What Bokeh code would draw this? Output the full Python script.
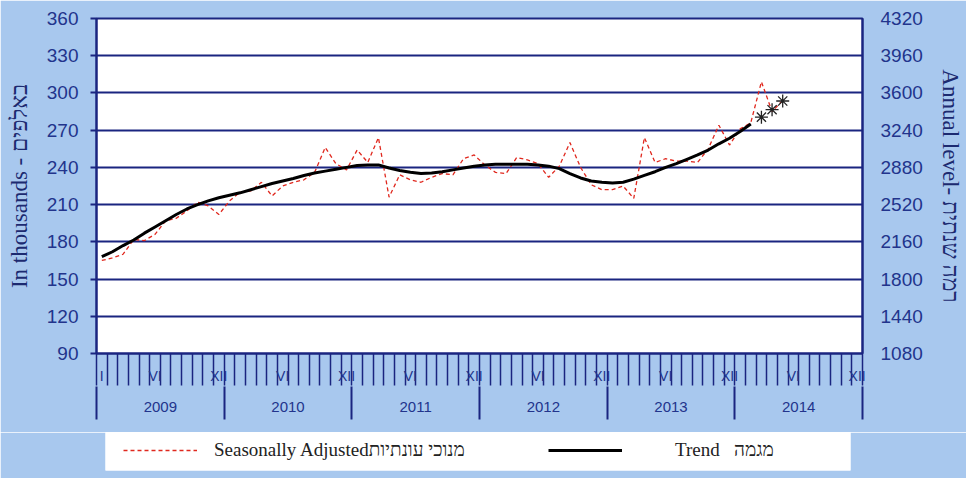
from bokeh.plotting import figure
from bokeh.layouts import column
from bokeh.models import (Range1d, LinearAxis, FixedTicker, Legend, LegendItem, Grid)
from bokeh.embed import file_html
from bokeh.resources import INLINE

# ---------------- data ----------------
years = ["2009", "2010", "2011", "2012", "2013", "2014"]
roman_labels = ["I", "VI", "XII"]

# Seasonally adjusted, monthly Jan 2009 - May 2014 (thousands)
seasonally_adjusted = [
    165, 167, 170, 182, 181, 186, 197, 199, 205, 212, 209, 202,   # 2009
    213, 220, 221, 228, 217, 225, 228, 230, 236, 256, 243, 238,   # 2010
    254, 244, 264, 216, 234, 230, 228, 232, 235, 234, 247, 250,   # 2011
    242, 236, 235, 248, 246, 243, 232, 241, 260, 240, 226, 222,   # 2012
    222, 225, 215, 264, 244, 247, 245, 245, 244, 255, 274, 258,   # 2013
    271, 276, 309, 285, 294,                                       # 2014
]

# Trend, monthly Jan 2009 - Feb 2014
trend = [
    168, 172, 177, 181.5, 187, 192, 197, 202, 206.5, 210, 213, 215.5,
    217.5, 219.5, 222, 224.5, 227, 229, 231, 233.5, 235.5, 237, 238.5, 240,
    241.5, 242, 242, 239.5, 237.5, 236, 235, 235.5, 236.5, 238, 239.5, 241,
    242, 242.5, 242.5, 242.5, 242.5, 242, 241, 239, 235, 231.5, 229, 228,
    227.5, 228, 230.5, 233.5, 236.5, 240, 243, 246.5, 250, 254, 259, 263.5,
    269, 275,
]

# Provisional trend (asterisks), Mar - May 2014
trend_provisional = [280.5, 286.5, 293.5]

left_ticks = [90, 120, 150, 180, 210, 240, 270, 300, 330, 360]
right_ticks = [1080, 1440, 1800, 2160, 2520, 2880, 3240, 3600, 3960, 4320]

legend_labels = ["Seasonally Adjustedמנוכי עונתיות", "Trend   מגמה"]

# month positions (category centres)
sa_x = [i + 0.5 for i in range(len(seasonally_adjusted))]
trend_x = [i + 0.5 for i in range(len(trend))]
prov_x = [len(trend) + i + 0.5 for i in range(len(trend_provisional))]

# ---------------- style ----------------
BG = "#a8c8ee"
NAVY = "#1a2580"
LABEL = "#22348c"
SA_STYLE = dict(line_color="#e0281e", line_width=1.3, line_dash="4 3")
TR_STYLE = dict(line_color="black", line_width=3)

p = figure(width=966, height=432,
           x_range=Range1d(0, 72), y_range=Range1d(90, 360),
           output_backend="svg", toolbar_location=None,
           x_axis_location=None, y_axis_location=None,
           min_border_left=96, min_border_right=104,
           min_border_top=18, min_border_bottom=79,
           frame_align=False,
           background_fill_color="white", border_fill_color=BG,
           outline_line_color=NAVY, outline_line_width=2)

for g in p.grid:
    g.visible = False

p.extra_y_ranges = {"annual": Range1d(1080, 4320)}

# left axis
ly = LinearAxis(ticker=FixedTicker(ticks=left_ticks),
                axis_label="In thousands - באלפים",
                axis_label_text_font="Liberation Serif",
                axis_label_text_font_style="normal",
                axis_label_text_font_size="23px",
                axis_label_text_color="#1c2a70",
                axis_label_standoff=12,
                major_label_text_font="Liberation Sans",
                major_label_text_font_size="19px",
                major_label_text_color=LABEL,
                major_label_standoff=12,
                major_tick_out=6, major_tick_in=0,
                major_tick_line_color=NAVY, major_tick_line_width=2,
                minor_tick_out=0, minor_tick_in=0,
                axis_line_color=NAVY, axis_line_width=2)
p.add_layout(ly, "left")

# right axis
ry = LinearAxis(y_range_name="annual", ticker=FixedTicker(ticks=right_ticks),
                axis_label="Annual level- רמה שנתית",
                axis_label_text_font="Liberation Serif",
                axis_label_text_font_style="normal",
                axis_label_text_font_size="23px",
                axis_label_text_color="#1c2a70",
                axis_label_standoff=12,
                major_label_text_font="Liberation Sans",
                major_label_text_font_size="19px",
                major_label_text_color=LABEL,
                major_label_standoff=18,
                major_tick_out=0, major_tick_in=0,
                minor_tick_out=0, minor_tick_in=0,
                axis_line_color=NAVY, axis_line_width=2)
p.add_layout(ry, "right")

# horizontal grid
p.add_layout(Grid(dimension=1, ticker=ly.ticker,
                  grid_line_color=NAVY, grid_line_width=2))

# month axis: ticks at month boundaries, roman labels between them
month_overrides = {0.5: roman_labels[0]}
for y in range(len(years)):
    month_overrides[y * 12 + 5.5] = roman_labels[1]
    month_overrides[y * 12 + 11.5] = roman_labels[2]
mx = LinearAxis(ticker=FixedTicker(ticks=sorted(month_overrides),
                                   minor_ticks=list(range(0, 73))),
                major_label_overrides=month_overrides,
                major_label_text_font="Liberation Sans",
                major_label_text_font_size="14px",
                major_label_text_color=LABEL,
                major_label_standoff=-18,
                major_tick_out=0, major_tick_in=0,
                minor_tick_out=32, minor_tick_in=0,
                minor_tick_line_color=NAVY, minor_tick_line_width=1.5,
                axis_line_color=NAVY, axis_line_width=2)
p.add_layout(mx, "below")

# year axis: separators at year boundaries, year labels centred
year_pos = [y * 12 + 6 for y in range(len(years))]
yx = LinearAxis(ticker=FixedTicker(ticks=year_pos,
                                   minor_ticks=[y * 12 for y in range(len(years) + 1)]),
                major_label_overrides={pos: lab for pos, lab in zip(year_pos, years)},
                major_label_text_font="Liberation Sans",
                major_label_text_font_size="15px",
                major_label_text_color=LABEL,
                major_label_standoff=-18,
                major_tick_out=0, major_tick_in=0,
                minor_tick_out=33, minor_tick_in=0,
                minor_tick_line_color=NAVY, minor_tick_line_width=2,
                axis_line_color=None)
p.add_layout(yx, "below")

# series
p.line(sa_x, seasonally_adjusted, **SA_STYLE)
p.line(trend_x, trend, **TR_STYLE)
p.scatter(prov_x, trend_provisional, marker="asterisk", size=13,
          line_color="#222222", line_width=1.3)

# ---------------- legend strip ----------------
pl = figure(width=966, height=46, x_range=Range1d(0, 1), y_range=Range1d(0, 1),
            output_backend="svg", toolbar_location=None,
            x_axis_location=None, y_axis_location=None,
            min_border_left=105, min_border_right=116,
            min_border_top=0, min_border_bottom=8,
            frame_align=False,
            background_fill_color="white", border_fill_color=BG,
            outline_line_color=None)
for g in pl.grid:
    g.visible = False

# legend proxies (invisible renderers carrying the series styles)
nan = float("nan")
sa_proxy = pl.line(x=[nan], y=[nan], **SA_STYLE)
tr_proxy = pl.line(x=[nan], y=[nan], **TR_STYLE)

common = dict(orientation="horizontal", background_fill_alpha=0,
              border_line_color=None, padding=0, margin=0, spacing=0,
              glyph_width=74, glyph_height=20, label_height=20,
              label_text_font="Liberation Serif", label_text_font_size="19px",
              label_text_color="#222222")
leg_a = Legend(items=[LegendItem(label=legend_labels[0], renderers=[sa_proxy])],
               location=(18, 9), label_standoff=17, **common)
leg_b = Legend(items=[LegendItem(label=legend_labels[1], renderers=[tr_proxy])],
               location=(443, 9), label_standoff=53, **common)
pl.add_layout(leg_a)
pl.add_layout(leg_b)

layout = column(p, pl, spacing=0)
open("out.html", "w").write(file_html(layout, INLINE))
